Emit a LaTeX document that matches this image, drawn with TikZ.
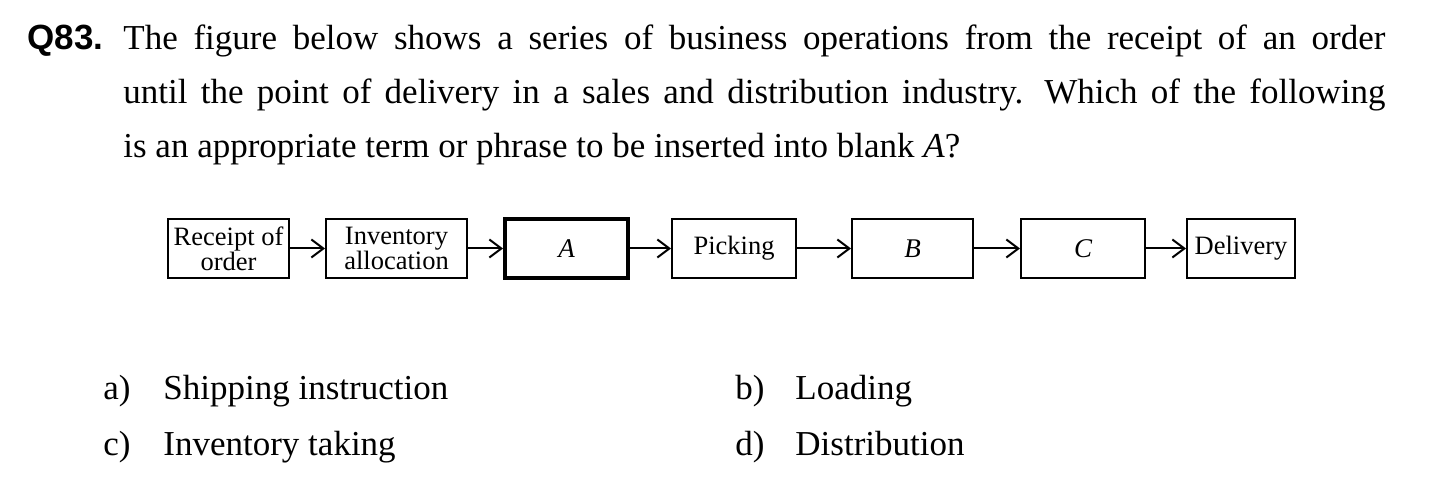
\documentclass[tikz,border=0pt]{standalone}
\usepackage{fontspec}
\setmainfont{Liberation Serif}
\newfontfamily\headFont{Liberation Sans}
\usetikzlibrary{arrows.meta}
\tikzstyle{sheet} = [x = .5pt, y = -.5pt]
\tikzstyle{bodyText} = [inner sep = 0pt, anchor = base west, font = \fontsize{17.5}{27}\selectfont]
\tikzstyle{stepBox} = [draw, line width = 1pt, minimum height = 29.5pt, inner sep = 0pt, font = \fontsize{13.25}{12.5}\selectfont]
\tikzstyle{twoLines} = [align = center]
\tikzstyle{blankBox} = [stepBox, font = \fontsize{13.5}{12.5}\selectfont\itshape]
\tikzstyle{flowArrow} = [-{Straight Barb[length = 6pt, width = 9pt]}, line width = 1pt]
\newcommand{\lineWidth}{631pt}
\newcommand{\stepNode}[5]{\node [#1, minimum width = #4 * .5pt] (#2) at (#3, 248.5) {#5};}
\newcommand{\answer}[4]{
  \node [bodyText] (#1Mark) at (#2, #3) {#1)};
  \pgfmathsetmacro{\textStart}{#2 + 60}
  \node [bodyText] (#1Text) at (\textStart, #3) {#4};
}

\begin{document}
\begin{tikzpicture}[sheet]
  \useasboundingbox (0, 0) rectangle (1450, 491);

  % question
  \node [bodyText] (qNumber) at (27, 50) {\headFont\bfseries Q83.};
  \node [bodyText] (lineOne) at (123, 50) {\makebox[\lineWidth][s]{The figure below shows a series of business operations from the receipt of an order}};
  \node [bodyText] (lineTwo) at (123, 104) {\makebox[\lineWidth][s]{until the point of delivery in a sales and distribution industry.\hspace{.6em}Which of the following}};
  \node [bodyText] (lineThree) at (123, 158) {is an appropriate term or phrase to be inserted into blank \textit{A}?};

  % flow of operations
  \stepNode{stepBox, twoLines}{receipt}{228.5}{121}{Receipt of\\order}
  \stepNode{stepBox, twoLines}{allocation}{396.5}{141}{Inventory\\allocation}
  \stepNode{blankBox, line width = 2pt}{blankA}{566.5}{123}{A}
  \stepNode{stepBox}{picking}{734}{124}{Picking}
  \stepNode{blankBox}{blankB}{912.5}{121}{B}
  \stepNode{blankBox}{blankC}{1083}{124}{C}
  \stepNode{stepBox}{delivery}{1241}{108}{Delivery}

  \foreach \from/\to in {receipt/allocation, allocation/blankA, blankA/picking, picking/blankB, blankB/blankC, blankC/delivery}
    \draw [flowArrow] (\from) -- (\to);

  % answers
  \answer{a}{103}{400}{Shipping instruction}
  \answer{b}{735}{400}{Loading}
  \answer{c}{103}{455}{Inventory taking}
  \answer{d}{735}{455}{Distribution}
\end{tikzpicture}
\end{document}
